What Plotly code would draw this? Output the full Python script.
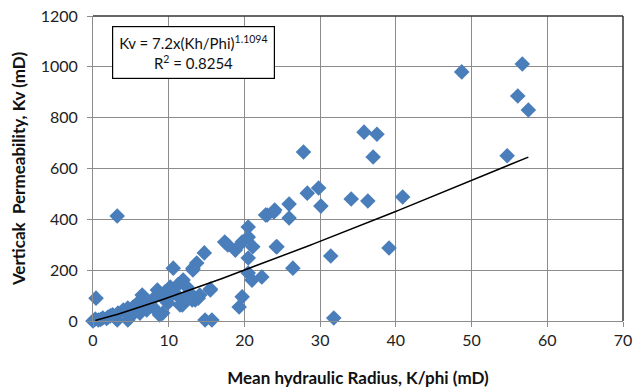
import plotly.graph_objects as go
import numpy as np

# Mean hydraulic radius K/phi (mD)
x_vals = [0.0, 0.4, 3.2, 48.7, 56.7, 56.1, 57.5, 54.7,
          35.8, 37.5, 37.0, 27.8, 28.3, 29.8, 30.1, 34.1, 36.3, 40.9, 39.1, 31.4, 31.8,
          26.4, 24.3, 25.9, 25.9, 22.8, 23.9, 24.2, 22.3,
          20.5, 20.5, 19.7, 21.1, 17.4, 17.8, 18.8, 20.5, 23.0, 24.0, 14.7, 10.6, 13.7,
          13.2, 20.5, 21.0, 15.5, 19.7, 19.3, 14.8, 15.7, 8.8, 11.5, 13.9, 12.8, 10.6,
          9.5, 8.8, 8.5, 11.2, 11.9, 12.4, 10.2, 9.5, 7.5, 6.6, 5.9, 5.3, 4.6, 4.0, 3.3,
          2.6, 2.0, 1.3, 0.7, 4.6, 3.2, 4.9, 6.2, 7.1, 7.9, 6.5, 13.5, 14.1, 11.5, 8.2,
          9.9, 13.2, 15.5, 13.1, 11.8, 9.2, 0.3, 1.0, 1.8, 2.3]
# Vertical permeability Kv (mD)
y_vals = [0, 90, 413, 980, 1011, 885, 830, 650,
          743, 735, 645, 665, 503, 523, 452, 480, 472, 488, 287, 256, 12,
          208, 292, 460, 405, 417, 429, 292, 173,
          370, 330, 311, 292, 311, 299, 279, 248, 417, 437, 268, 208, 228,
          201, 189, 161, 122, 95, 55, 4, 4, 24, 63, 90, 110, 110,
          114, 110, 122, 142, 161, 134, 134, 83, 71, 83, 71, 55, 51, 43, 31,
          24, 16, 12, 4, 4, 4, 16, 31, 43, 55, 102, 83, 102, 90, 94,
          71, 208, 126, 83, 63, 31, 8, 6, 10, 20]

# Power-law trendline from the chart's equation
coef_a = 7.2
coef_b = 1.1094
r_squared = 0.8254
trend_x = np.linspace(0.3, 57.5, 200)
trend_y = coef_a * trend_x ** coef_b

x_ticks = [0, 10, 20, 30, 40, 50, 60, 70]
y_ticks = [0, 200, 400, 600, 800, 1000, 1200]

FONT = "Lato, 'Open Sans', sans-serif"
GRID = "#8c8c8c"

fig = go.Figure()
fig.add_trace(go.Scatter(
    x=x_vals, y=y_vals, mode="markers",
    marker=dict(symbol="diamond", size=12, color="#4a7ebb", line=dict(width=0)),
    showlegend=False, cliponaxis=False))
fig.add_trace(go.Scatter(
    x=trend_x, y=trend_y, mode="lines",
    line=dict(color="black", width=1.5), showlegend=False))

fig.update_layout(
    width=644, height=392,
    margin=dict(l=93, r=21, t=16, b=71, autoexpand=False),
    paper_bgcolor="white", plot_bgcolor="white",
    font=dict(family=FONT, size=16, color="#222"),
    xaxis=dict(range=[0, 70], tickvals=x_ticks, showgrid=True, gridcolor=GRID, gridwidth=1,
               zeroline=False, showline=True, linecolor=GRID, linewidth=1,
               ticks="outside", ticklen=5, tickcolor=GRID, automargin=False,
               ticklabeloverflow="allow",
               tickfont=dict(size=16, color="#222"),
               title=dict(text="<b>Mean hydraulic Radius, K/phi (mD)</b>", font=dict(size=17, color="#111"),
                          standoff=23)),
    yaxis=dict(range=[0, 1200], tickvals=y_ticks, showgrid=True, gridcolor=GRID, gridwidth=1,
               zeroline=False, showline=True, linecolor=GRID, linewidth=1,
               ticks="outside", ticklen=5, tickcolor=GRID, automargin=False,
               ticklabelstandoff=6, ticklabeloverflow="allow",
               tickfont=dict(size=16, color="#222"),
               title=dict(text="<b>Verticak  Permeability, Kv (mD)</b>", font=dict(size=17, color="#111"),
                          standoff=10)),
    shapes=[
        dict(type="line", xref="paper", yref="paper", x0=0, x1=1, y0=1, y1=1,
             line=dict(color="#333", width=1.5)),
        dict(type="line", xref="paper", yref="paper", x0=1, x1=1, y0=0, y1=1,
             line=dict(color="#333", width=1.5)),
    ],
    annotations=[dict(
        xref="x", yref="y", x=13.3, y=1058, xanchor="center", yanchor="middle",
        text=f"Kv = {coef_a}x(Kh/Phi)<sup>{coef_b}</sup><br>R<sup>2</sup> = {r_squared}",
        showarrow=False, bgcolor="white", bordercolor="black", borderwidth=1.2,
        borderpad=6, align="center", font=dict(size=15, color="#111"))],
)

fig.write_html("out.html", config={"displayModeBar": False},
               post_script="document.body.style.margin='0';")
